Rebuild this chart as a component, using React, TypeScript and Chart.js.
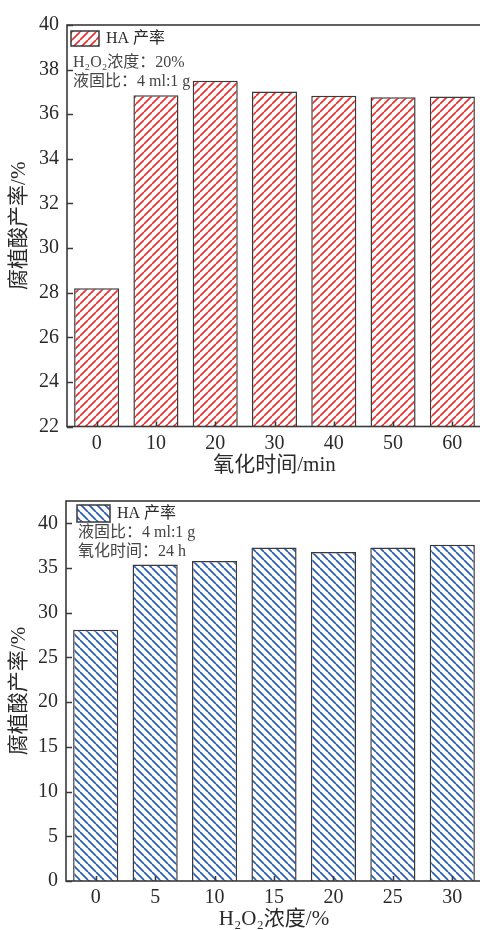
import React, { useEffect, useRef } from "react";
import { Chart, registerables } from "chart.js";

Chart.register(...registerables);

// ---------- data ----------
const timeLabels = ["0", "10", "20", "30", "40", "50", "60"];
const timeYield = [28.2, 36.85, 37.5, 37.02, 36.83, 36.76, 36.79];

const concLabels = ["0", "5", "10", "15", "20", "25", "30"];
const concYield = [28.1, 35.4, 35.8, 37.3, 36.8, 37.3, 37.6];

const seriesLabel = "HA 产率";
const yTitle = "腐植酸产率/%";
const xTitleTime = "氧化时间/min";
const xTitleConc = "H₂O₂浓度/%";
const notesTime = ["H₂O₂浓度：20%", "液固比：4 ml:1 g"];
const notesConc = ["液固比：4 ml:1 g", "氧化时间：24 h"];

const yRangeTime = [22, 40, 2];
const yRangeConc = [0, 42.5, 5];

// ---------- style ----------
const FONT = "'Liberation Serif', 'Times New Roman', 'Noto Sans CJK SC', serif";
const AXIS = "#3a3a3a";
const TEXT = "#2a2a2a";
const NOTE = "#444444";
const RED = "#ee2b2b";
const BLUE = "#2d5fb5";

function makePattern(color: string, dir: number, size: number, lw: number) {
  const c = document.createElement("canvas");
  c.width = size;
  c.height = size;
  const g = c.getContext("2d")!;
  g.fillStyle = "#ffffff";
  g.fillRect(0, 0, size, size);
  g.strokeStyle = color;
  g.lineWidth = lw;
  g.beginPath();
  for (const o of [-size, 0, size]) {
    if (dir > 0) {
      g.moveTo(o, size);
      g.lineTo(o + size, 0);
    } else {
      g.moveTo(o, 0);
      g.lineTo(o + size, size);
    }
  }
  g.stroke();
  return g.createPattern(c, "repeat")!;
}

const frameTicks = {
  id: "frameTicks",
  afterDatasetsDraw(chart: any) {
    const { ctx, chartArea: a, scales } = chart;
    ctx.save();
    ctx.strokeStyle = AXIS;
    ctx.lineWidth = 1.6;
    ctx.strokeRect(a.left, a.top, a.right - a.left, a.bottom - a.top);
    ctx.beginPath();
    const y = scales.y;
    y.ticks.forEach((t: any) => {
      const p = Math.round(y.getPixelForValue(t.value)) + 0.5;
      ctx.moveTo(a.left, p);
      ctx.lineTo(a.left + 6, p);
    });
    const x = scales.x;
    x.ticks.forEach((_t: any, i: number) => {
      const p = Math.round(x.getPixelForTick(i)) + 0.5;
      ctx.moveTo(p, a.bottom);
      ctx.lineTo(p, a.bottom - 5);
    });
    ctx.stroke();
    ctx.restore();
  },
};

const notesLegend = {
  id: "notesLegend",
  afterDraw(chart: any, _args: any, opts: any) {
    const { ctx, chartArea: a } = chart;
    const ds = chart.data.datasets[0];
    ctx.save();
    const bx = a.left + opts.boxX;
    const by = a.top + opts.boxY;
    ctx.fillStyle = ds.backgroundColor;
    ctx.fillRect(bx, by, opts.boxW, opts.boxH);
    ctx.strokeStyle = AXIS;
    ctx.lineWidth = 1.5;
    ctx.strokeRect(bx, by, opts.boxW, opts.boxH);
    ctx.font = `16px ${FONT}`;
    ctx.textBaseline = "middle";
    ctx.textAlign = "left";
    ctx.fillStyle = TEXT;
    ctx.fillText(ds.label, bx + opts.boxW + 7, by + opts.boxH / 2);
    ctx.fillStyle = NOTE;
    opts.lines.forEach((s: string, i: number) => {
      ctx.fillText(s, a.left + opts.noteX, a.top + opts.noteY + i * 19);
    });
    ctx.restore();
  },
};

function buildConfig(
  labels: string[],
  values: number[],
  pattern: CanvasPattern,
  range: number[],
  xTitle: string,
  yWidth: number,
  xHeight: number,
  padTop: number,
  padBottom: number,
  legendOpts: any
): any {
  return {
    type: "bar",
    data: {
      labels,
      datasets: [
        {
          label: seriesLabel,
          data: values,
          backgroundColor: pattern,
          borderColor: AXIS,
          borderWidth: 1.5,
          categoryPercentage: 1,
          barPercentage: 0.76,
        },
      ],
    },
    options: {
      responsive: false,
      animation: false,
      layout: { padding: { top: padTop, right: 2, bottom: padBottom, left: 0 } },
      plugins: {
        legend: { display: false },
        tooltip: { enabled: false },
        notesLegend: legendOpts,
      },
      scales: {
        x: {
          grid: { display: false, drawTicks: false },
          border: { display: false },
          ticks: { color: TEXT, font: { family: FONT, size: 20 }, padding: 5, maxRotation: 0 },
          title: {
            display: true,
            text: xTitle,
            color: TEXT,
            font: { family: FONT, size: 21, lineHeight: 1 },
            padding: { top: 0, bottom: 0 },
          },
          afterFit: (s: any) => {
            s.height = xHeight;
          },
        },
        y: {
          min: range[0],
          max: range[1],
          grid: { display: false, drawTicks: false },
          border: { display: false },
          ticks: {
            stepSize: range[2],
            includeBounds: false,
            color: TEXT,
            font: { family: FONT, size: 20 },
            padding: 8,
          },
          title: {
            display: true,
            text: yTitle,
            color: TEXT,
            font: { family: FONT, size: 21, lineHeight: 1 },
            padding: { top: 9, bottom: 0 },
          },
          afterFit: (s: any) => {
            s.width = yWidth;
          },
        },
      },
    },
    plugins: [frameTicks, notesLegend],
  };
}

export default function App() {
  const ref1 = useRef<HTMLCanvasElement>(null);
  const ref2 = useRef<HTMLCanvasElement>(null);

  useEffect(() => {
    const c1 = new Chart(
      ref1.current!,
      buildConfig(
        timeLabels,
        timeYield,
        makePattern(RED, 1, 8, 1.6),
        yRangeTime,
        xTitleTime,
        67,
        49.5,
        25,
        4,
        { boxX: 4, boxY: 6, boxW: 28, boxH: 15, noteX: 6, noteY: 38, lines: notesTime }
      )
    );
    const c2 = new Chart(
      ref2.current!,
      buildConfig(
        concLabels,
        concYield,
        makePattern(BLUE, -1, 8, 1.8),
        yRangeConc,
        xTitleConc,
        66,
        49,
        21,
        0,
        { boxX: 11, boxY: 4, boxW: 33, boxH: 17, noteX: 12, noteY: 32, lines: notesConc }
      )
    );
    return () => {
      c1.destroy();
      c2.destroy();
    };
  }, []);

  return (
    <div
      style={{
        position: "absolute",
        left: 0,
        top: 0,
        width: 480,
        height: 930,
        overflow: "hidden",
        background: "#ffffff",
      }}
    >
      <canvas ref={ref1} width={484} height={480} style={{ position: "absolute", left: 0, top: 0 }} />
      <canvas ref={ref2} width={484} height={450} style={{ position: "absolute", left: 0, top: 480 }} />
    </div>
  );
}
